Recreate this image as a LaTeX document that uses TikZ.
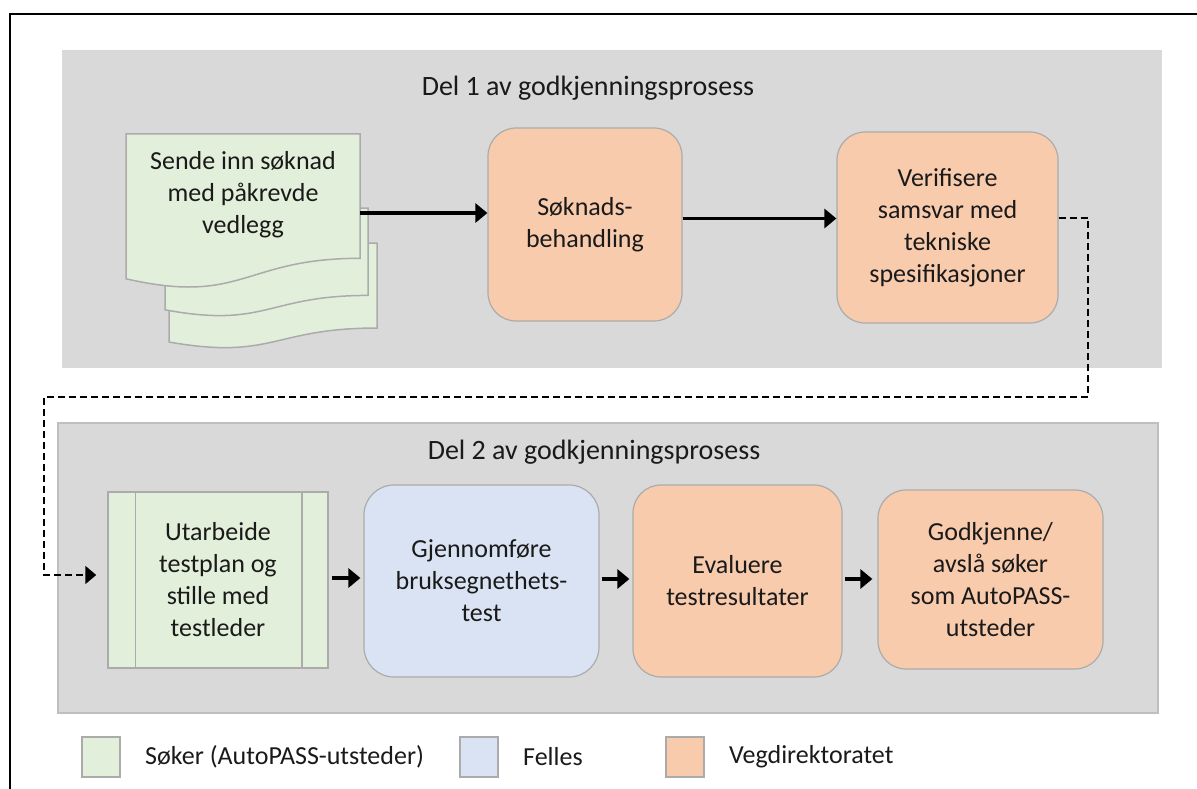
\documentclass[tikz,border=0pt]{standalone}
\usepackage{fontspec}
\setmainfont{Carlito}
\usetikzlibrary{arrows.meta}
\definecolor{panelgray}{HTML}{D9D9D9}
\definecolor{panelborder}{HTML}{BFBFBF}
\definecolor{greenf}{HTML}{E2EFDA}
\definecolor{orangef}{HTML}{F8CBAD}
\definecolor{bluef}{HTML}{DAE3F3}
\definecolor{boxborder}{HTML}{ABABAB}
\definecolor{txt}{HTML}{1A1A1A}
\newcommand\mydoc[4]{\filldraw[docsty] (#1,#2) -- ({#1+#3},#2) -- ({#1+#3},{#2+0.802*#4}) .. controls ({#1+0.5*#3},{#2+0.802*#4}) and ({#1+0.5*#3},{#2+1.107*#4}) .. (#1,{#2+0.934*#4}) -- cycle;}
\tikzset{
  boxfont/.style={font=\fontsize{26}{32}\selectfont, text=txt},
  titlefont/.style={font=\fontsize{28}{34}\selectfont, text=txt},
  docsty/.style={fill=greenf, draw=boxborder, line width=1.5pt},
  rbox/.style={rounded corners=28pt, draw=boxborder, line width=1.2pt, align=center, inner sep=0pt, boxfont},
  pbox/.style={draw=boxborder, line width=1.5pt, fill=greenf, align=center, inner sep=0pt, boxfont},
  arr/.style={line width=3.2pt, -{Triangle[length=12pt,width=19pt]}},
  darr/.style={line width=2pt, dash pattern=on 7pt off 4pt, -{Triangle[length=11pt,width=18pt]}},
  legsq/.style={draw=boxborder, line width=1.5pt, minimum width=38pt, minimum height=40pt, inner sep=0pt},
  legtxt/.style={boxfont, anchor=west, inner sep=0pt}
}
\begin{document}
\begin{tikzpicture}[x=1pt,y=-1pt]
\useasboundingbox (0,0) rectangle (1197,789);
\fill[white] (0,0) rectangle (1197,789);
% outer frame
\draw[line width=2.5pt] (1200,14) -- (10,14) -- (10,792);
% panels
\fill[panelgray] (62,50) rectangle (1162,368);
\filldraw[fill=panelgray, draw=panelborder, line width=1.5pt] (58,423) rectangle (1158,713);
\node[titlefont] (t1) at (588,88) {Del 1 av godkjenningsprosess};
\node[titlefont] (t2) at (594,452) {Del 2 av godkjenningsprosess};
% document stack
\mydoc{169}{243}{208}{106}
\mydoc{165}{208}{203}{109}
\mydoc{126}{134}{234}{155}
\node[boxfont, align=center] (doc) at (243,195) {Sende inn søknad\\med påkrevde\\vedlegg};
\coordinate (docE) at (360,213);
% part 1 boxes
\node[rbox, fill=orangef, minimum width=194pt, minimum height=193pt] (sok) at (585,224.5) {Søknads-\\behandling};
\node[rbox, fill=orangef, minimum width=221pt, minimum height=191pt] (verif) at (947.5,227.5) {Verifisere\\samsvar med\\tekniske\\spesifikasjoner};
% part 2 boxes
\node[pbox, minimum width=220pt, minimum height=176pt] (utar) at (218,580) {Utarbeide\\testplan og\\stille med\\testleder};
\draw[boxborder, line width=1.5pt] ([xshift=28pt]utar.north west) -- ([xshift=28pt]utar.south west);
\draw[boxborder, line width=1.5pt] ([xshift=-27pt]utar.north east) -- ([xshift=-27pt]utar.south east);
\node[rbox, fill=bluef, rounded corners=30pt, minimum width=235pt, minimum height=192pt] (gjen) at (481.5,581) {Gjennomføre\\bruksegnethets-\\test};
\node[rbox, fill=orangef, minimum width=209pt, minimum height=192pt] (eval) at (737.5,581) {Evaluere\\testresultater};
\node[rbox, fill=orangef, minimum width=225pt, minimum height=179pt] (god) at (990.5,579.5) {Godkjenne/\\avslå søker\\som AutoPASS-\\utsteder};
% connectors
\draw[arr] (docE) -- (docE -| sok.west);
\coordinate (s2) at ([yshift=6pt]sok.east);
\draw[arr] (s2) -- (s2 -| verif.west);
\coordinate (c1) at (1088,397);
\coordinate (c2) at (44,397);
\coordinate (v1) at ([yshift=10pt]verif.east);
\coordinate (u1) at ([yshift=5pt]utar.west);
\draw[darr, shorten >=11pt] (v1) -| (c1) -- (c2) |- (u1);
\draw[arr, shorten <=3pt, shorten >=3pt] ([yshift=2pt]utar.east) -- ([yshift=2pt]utar.east -| gjen.west);
\draw[arr, shorten <=2pt, shorten >=3pt] ([yshift=2pt]gjen.east) -- ([yshift=2pt]gjen.east -| eval.west);
\draw[arr, shorten <=2pt, shorten >=5pt] ([yshift=2pt]eval.east) -- ([yshift=2pt]eval.east -| god.west);
% legend
\node[legsq, fill=greenf] (lg) at (101,757) {};
\node[legtxt] (lgt) at (145,757) {Søker (AutoPASS-utsteder)};
\node[legsq, fill=bluef] (lb) at (479,757) {};
\node[legtxt] (lbt) at (523,757) {Felles};
\node[legsq, fill=orangef] (lo) at (685,757) {};
\node[legtxt] (lot) at (729,757) {Vegdirektoratet};
\end{tikzpicture}
\end{document}
